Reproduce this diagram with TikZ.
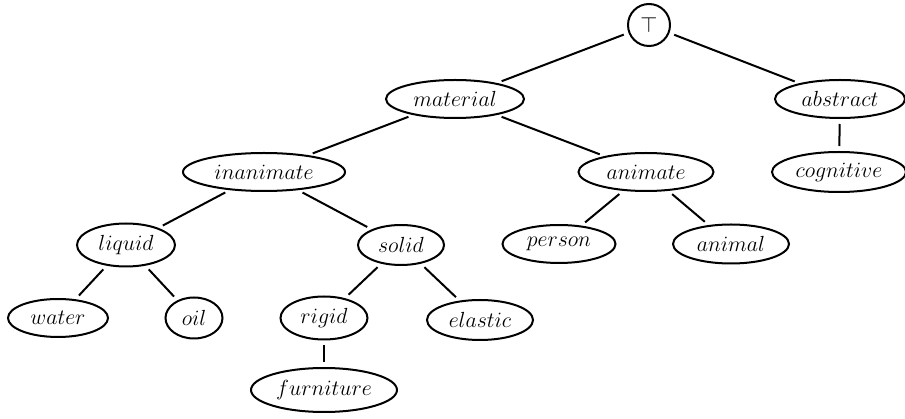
\documentclass[tikz,border=0pt]{standalone}
\usepackage{graphicx}
\usetikzlibrary{shapes.geometric}
\newcommand{\lbl}[1]{\makebox[0pt]{\scalebox{1.055}{$#1$}}}
\begin{document}
\begin{tikzpicture}[x=1pt,y=-1pt,
  concept/.style={draw,ellipse,line width=2pt,inner sep=0pt,font=\fontsize{20.74}{25}\selectfont},
  link/.style={line width=2pt,shorten >=5pt,shorten <=5pt}]
\useasboundingbox (0,0) rectangle (905,419);
\node[draw,circle,line width=2pt,minimum size=42pt,inner sep=0pt,font=\fontsize{20.74}{25}\selectfont] (top) at (649,25) {\lbl{\top}};
\node[concept,minimum width=138pt,minimum height=38pt] (material) at (455,99) {\lbl{material}};
\node[concept,minimum width=130pt,minimum height=38pt] (abstract) at (840,99) {\lbl{abstract}};
\node[concept,minimum width=134pt,minimum height=40pt] (cognitive) at (839,172) {\lbl{cognitive}};
\node[concept,minimum width=162pt,minimum height=38pt] (inanimate) at (264,172) {\lbl{inanimate}};
\node[concept,minimum width=135pt,minimum height=38pt] (animate) at (646,172) {\lbl{animate}};
\node[concept,minimum width=98pt,minimum height=43pt] (liquid) at (126,245) {\lbl{liquid}};
\node[concept,minimum width=86pt,minimum height=40pt] (solid) at (401,245) {\lbl{solid}};
\node[concept,minimum width=113pt,minimum height=38pt] (person) at (559,244) {\lbl{person}};
\node[concept,minimum width=116pt,minimum height=39pt] (animal) at (731,244) {\lbl{animal}};
\node[concept,minimum width=100pt,minimum height=38pt] (water) at (58,318) {\lbl{water}};
\node[concept,minimum width=57pt,minimum height=41pt] (oil) at (194,318) {\lbl{oil}};
\node[concept,minimum width=87pt,minimum height=43pt] (rigid) at (324,318) {\lbl{rigid}};
\node[concept,minimum width=106pt,minimum height=40pt] (elastic) at (480,320) {\lbl{elastic}};
\node[concept,minimum width=146pt,minimum height=44pt] (furniture) at (324,390) {\lbl{furniture}};
\draw[link] (top) -- (material);
\draw[link] (top) -- (abstract);
\draw[link] (abstract) -- (cognitive);
\draw[link] (material) -- (inanimate);
\draw[link] (material) -- (animate);
\draw[link] (inanimate) -- (liquid);
\draw[link] (inanimate) -- (solid);
\draw[link] (animate) -- (person);
\draw[link] (animate) -- (animal);
\draw[link] (liquid) -- (water);
\draw[link] (liquid) -- (oil);
\draw[link] (solid) -- (rigid);
\draw[link] (solid) -- (elastic);
\draw[link] (rigid) -- (furniture);
\end{tikzpicture}
\end{document}
